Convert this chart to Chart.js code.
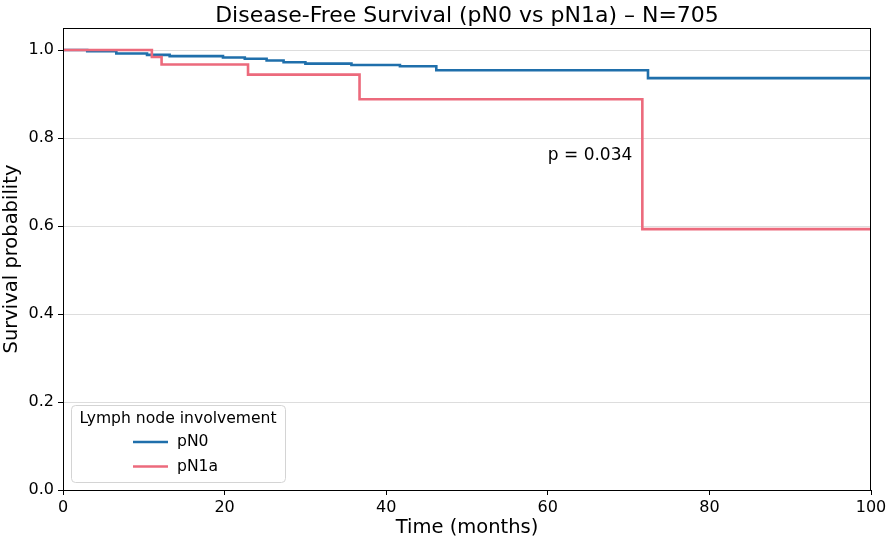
<!DOCTYPE html>
<html>
<head>
<meta charset="utf-8">
<script src="https://cdn.jsdelivr.net/npm/chart.js@4.4.1/dist/chart.umd.min.js"></script>
<style>
  body { margin: 0; background: #fff; }
  #wrap { width: 886px; height: 543px; }
</style>
</head>
<body>
<div id="wrap"><canvas id="myChart"></canvas></div>
<script>
// --- Données ---
const tempsPN0 = [0, 3, 6.6, 10.4, 13.2, 19.8, 22.5, 25.2, 27.3, 30, 35.7, 41.7, 46.2, 72.4, 100];
const survieePN0 = [1.0, 0.997, 0.992, 0.989, 0.986, 0.983, 0.980, 0.976, 0.972, 0.969, 0.966, 0.963, 0.954, 0.936, 0.936];

const tempsPN1a = [0, 11, 12.2, 22.9, 36.7, 71.7, 100];
const surviePN1a = [1.0, 0.984, 0.967, 0.944, 0.888, 0.593, 0.593];

const xTicks = [0, 20, 40, 60, 80, 100];
const yTicks = [0.0, 0.2, 0.4, 0.6, 0.8, 1.0];

const groupes = ['pN0', 'pN1a'];
const couleurs = ['#1f6fab', '#ec6a7c'];

const titre = 'Disease-Free Survival (pN0 vs pN1a) \u2013 N=705';
const texteP = 'p = 0.034';
const positionP = { x: 60, y: 0.75 };
const titreLegende = 'Lymph node involvement';

const police = 'DejaVu Sans';

function points(xs, ys) {
  return xs.map((x, i) => ({ x: x, y: ys[i] }));
}

// plugin : titre, cadre, texte p et légende façon matplotlib
const decorPlugin = {
  id: 'decor',
  afterDraw(chart) {
    const ctx = chart.ctx;
    const area = chart.chartArea;
    const sx = chart.scales.x;
    const sy = chart.scales.y;
    ctx.save();

    // cadre complet
    ctx.strokeStyle = '#000';
    ctx.lineWidth = 1;
    ctx.strokeRect(area.left + 0.5, area.top + 0.5, area.right - area.left - 1, area.bottom - area.top);

    // titre
    ctx.fillStyle = '#000';
    ctx.font = '22px "' + police + '"';
    ctx.textAlign = 'center';
    ctx.textBaseline = 'alphabetic';
    ctx.fillText(titre, (area.left + area.right) / 2, 22);

    // texte p-value
    ctx.font = '17px "' + police + '"';
    ctx.textAlign = 'left';
    ctx.fillText(texteP, sx.getPixelForValue(positionP.x), sy.getPixelForValue(positionP.y));

    // légende
    const bx = area.left + 8, by = area.bottom - 85, bw = 214, bh = 77;
    ctx.beginPath();
    ctx.roundRect(bx + 0.5, by + 0.5, bw, bh, 4);
    ctx.fillStyle = 'rgba(255,255,255,0.8)';
    ctx.fill();
    ctx.strokeStyle = '#d4d4d4';
    ctx.lineWidth = 1;
    ctx.stroke();

    ctx.fillStyle = '#000';
    ctx.font = '15.6px "' + police + '"';
    ctx.textAlign = 'center';
    ctx.textBaseline = 'middle';
    ctx.fillText(titreLegende, bx + bw / 2, by + 14);

    ctx.textAlign = 'left';
    groupes.forEach((g, i) => {
      const yy = by + 37 + i * 24.5;
      ctx.strokeStyle = couleurs[i];
      ctx.lineWidth = 2.5;
      ctx.beginPath();
      ctx.moveTo(bx + 62, yy);
      ctx.lineTo(bx + 97, yy);
      ctx.stroke();
      ctx.fillText(g, bx + 106, yy);
    });

    ctx.restore();
  }
};

const ctx = document.getElementById('myChart').getContext('2d');
const myChartInstance = new Chart(ctx, {
  type: 'line',
  data: {
    datasets: [
      {
        label: groupes[0],
        data: points(tempsPN0, survieePN0),
        borderColor: couleurs[0],
        borderWidth: 2.6,
        stepped: 'before',
        pointRadius: 0,
        fill: false,
        order: 1
      },
      {
        label: groupes[1],
        data: points(tempsPN1a, surviePN1a),
        borderColor: couleurs[1],
        borderWidth: 2.6,
        stepped: 'before',
        pointRadius: 0,
        fill: false,
        order: 0
      }
    ]
  },
  options: {
    responsive: true,
    maintainAspectRatio: false,
    animation: false,
    devicePixelRatio: 1,
    layout: { padding: { top: 28, right: 15, left: 0, bottom: 0 } },
    plugins: {
      legend: { display: false },
      title: { display: false },
      tooltip: { enabled: false }
    },
    scales: {
      x: {
        type: 'linear',
        min: 0,
        max: 100,
        afterBuildTicks: (s) => { s.ticks = xTicks.map(v => ({ value: v })); },
        afterFit: (s) => { s.height = 53; s.paddingLeft = 0; s.paddingRight = 0; },
        ticks: {
          color: '#000',
          font: { family: police, size: 16 },
          padding: 3,
          maxRotation: 0,
          callback: (v) => String(v)
        },
        grid: { drawOnChartArea: false, tickLength: 5, tickColor: '#000', tickWidth: 1 },
        border: { color: '#000', width: 1 },
        title: {
          display: true,
          text: 'Time (months)',
          color: '#000',
          font: { family: police, size: 19.5 },
          padding: { top: 0, bottom: 3 }
        }
      },
      y: {
        type: 'linear',
        min: 0,
        max: 1.05,
        afterBuildTicks: (s) => { s.ticks = yTicks.map(v => ({ value: v })); },
        afterFit: (s) => { s.width = 63; },
        ticks: {
          color: '#000',
          font: { family: police, size: 16 },
          padding: 4,
          callback: (v) => v.toFixed(1)
        },
        grid: {
          color: 'rgba(0,0,0,0.17)',
          lineWidth: 0.8,
          borderDash: [2.5, 2],
          tickLength: 5,
          tickColor: '#000',
          tickWidth: 1,
          tickBorderDash: []
        },
        border: { color: '#000', width: 1 },
        title: {
          display: true,
          text: 'Survival probability',
          color: '#000',
          font: { family: police, size: 19.5 },
          padding: { top: 0, bottom: 0 }
        }
      }
    }
  },
  plugins: [decorPlugin]
});
</script>
</body>
</html>
